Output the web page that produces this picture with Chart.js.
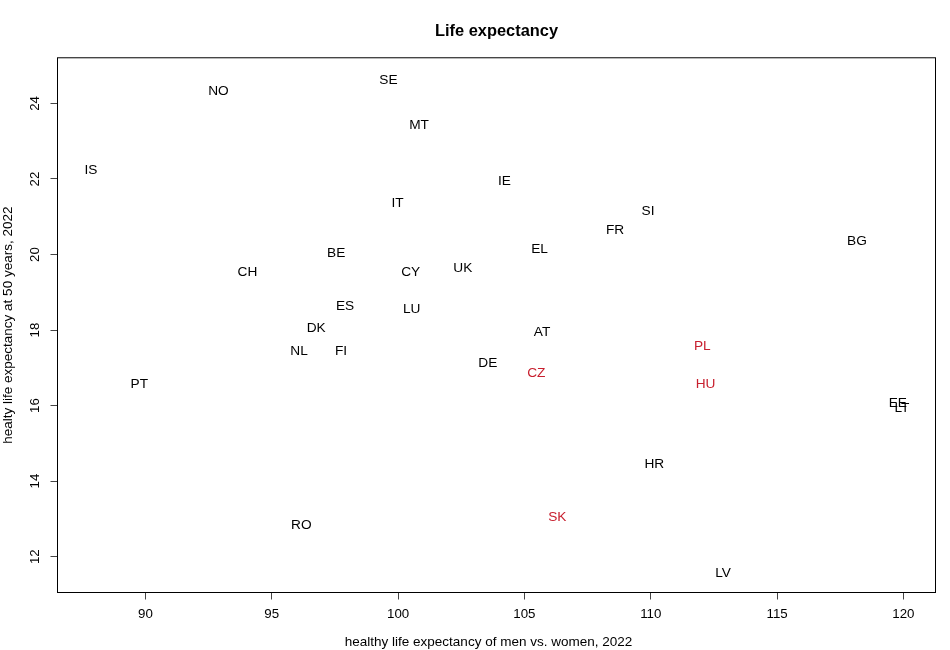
<!DOCTYPE html>
<html>
<head>
<meta charset="utf-8">
<script src="https://cdn.jsdelivr.net/npm/chart.js@4"></script>
<style>
  html, body { margin: 0; padding: 0; background: #fff; }
  #wrap { width: 950px; height: 650px; }
</style>
</head>
<body>
<div id="wrap"><canvas id="scatter"></canvas></div>
<script>
const countries = ['NO', 'SE', 'MT', 'IS', 'IT', 'BE', 'CH', 'CY', 'UK', 'ES', 'LU',
  'IE', 'SI', 'FR', 'BG', 'EL', 'DK', 'NL', 'FI', 'DE', 'PT', 'RO',
  'AT', 'PL', 'CZ', 'HU', 'EE', 'LT', 'HR', 'SK', 'LV'];

// healthy life expectancy of men vs. women, 2022
const menVsWomen = [92.89, 99.62, 100.83, 87.84, 99.98, 97.55, 94.04, 100.50, 102.56, 97.90, 100.54,
  104.21, 109.89, 108.59, 118.16, 105.60, 96.76, 96.08, 97.74, 103.55, 89.76, 96.17,
  105.70, 112.04, 105.47, 112.17, 119.78, 119.94, 110.14, 106.30, 112.86];

// healty life expectancy at 50 years, 2022
const healthyAt50 = [24.36, 24.65, 23.46, 22.26, 21.38, 20.07, 19.57, 19.57, 19.66, 18.66, 18.58,
  21.97, 21.18, 20.67, 20.37, 20.17, 18.07, 17.47, 17.47, 17.16, 16.58, 12.87,
  17.97, 17.59, 16.88, 16.59, 16.09, 15.96, 14.47, 13.08, 11.59];

const highlighted = ['PL', 'CZ', 'HU', 'SK'];

const xTicks = [90, 95, 100, 105, 110, 115, 120];
const yTicks = [12, 14, 16, 18, 20, 22, 24];

const xTitle = 'healthy life expectancy of men vs. women, 2022';
const yTitle = 'healty life expectancy at 50 years, 2022';

const FONT = "'Liberation Sans', Arial, Helvetica, sans-serif";
const RED = '#c8202f';

const points = countries.map((c, i) => ({ x: menVsWomen[i], y: healthyAt50[i] }));

// R-like box, rotated y tick labels and text labels in place of points
const rPlot = {
  id: 'rPlot',
  afterDatasetsDraw(chart) {
    const ctx = chart.ctx;
    const meta = chart.getDatasetMeta(0);
    ctx.save();
    ctx.font = '13.7px ' + FONT;
    ctx.textAlign = 'center';
    ctx.textBaseline = 'middle';
    meta.data.forEach((el, i) => {
      ctx.fillStyle = highlighted.includes(countries[i]) ? RED : '#000';
      ctx.fillText(countries[i], el.x, el.y + 1);
    });
    ctx.restore();
  },
  afterDraw(chart) {
    const ctx = chart.ctx;
    const a = chart.chartArea;
    const yScale = chart.scales.y;
    ctx.save();
    ctx.strokeStyle = '#000';
    ctx.lineWidth = 1;
    ctx.strokeRect(a.left, a.top, a.right - a.left, a.bottom - a.top);

    ctx.fillStyle = '#000';
    ctx.font = '13.3px ' + FONT;
    ctx.textAlign = 'center';
    ctx.textBaseline = 'middle';
    yTicks.forEach(v => {
      ctx.save();
      ctx.translate(35.5, yScale.getPixelForValue(v));
      ctx.rotate(-Math.PI / 2);
      ctx.fillText(String(v), 0, 0);
      ctx.restore();
    });

    // x axis title, R puts it a little left of the plot centre
    ctx.font = '13.5px ' + FONT;
    ctx.fillText(xTitle, (a.left + a.right) / 2 - 8, 642);
    ctx.restore();
  }
};

new Chart(document.getElementById('scatter'), {
  type: 'scatter',
  data: {
    datasets: [{
      data: points,
      pointRadius: 0,
      pointHoverRadius: 0
    }]
  },
  options: {
    responsive: true,
    maintainAspectRatio: false,
    animation: false,
    events: [],
    layout: {
      padding: { left: 0, right: 14.5, top: 0, bottom: 0 }
    },
    scales: {
      x: {
        type: 'linear',
        min: 86.52,
        max: 121.27,
        afterBuildTicks: scale => { scale.ticks = xTicks.map(v => ({ value: v })); },
        afterFit: scale => { scale.height = 57.5; },
        border: { display: false },
        grid: {
          drawOnChartArea: false,
          drawTicks: true,
          tickLength: 7,
          color: '#444'
        },
        ticks: {
          color: '#000',
          padding: 7,
          maxRotation: 0,
          font: { family: FONT, size: 13.3 }
        }
      },
      y: {
        type: 'linear',
        min: 11.05,
        max: 25.21,
        afterBuildTicks: scale => { scale.ticks = yTicks.map(v => ({ value: v })); },
        afterFit: scale => { scale.width = 57.5; },
        border: { display: false },
        grid: {
          drawOnChartArea: false,
          drawTicks: true,
          tickLength: 7,
          color: '#444'
        },
        ticks: {
          display: false
        },
        title: {
          display: true,
          text: yTitle,
          color: '#000',
          padding: { top: 0, bottom: 0 },
          font: { family: FONT, size: 13.5 }
        }
      }
    },
    plugins: {
      legend: { display: false },
      tooltip: { enabled: false },
      title: {
        display: true,
        text: 'Life expectancy',
        color: '#000',
        fullSize: false,
        font: { family: FONT, size: 16.4, weight: 'bold' },
        padding: { top: 22, bottom: 16.1 }
      }
    }
  },
  plugins: [rPlot]
});
</script>
</body>
</html>
